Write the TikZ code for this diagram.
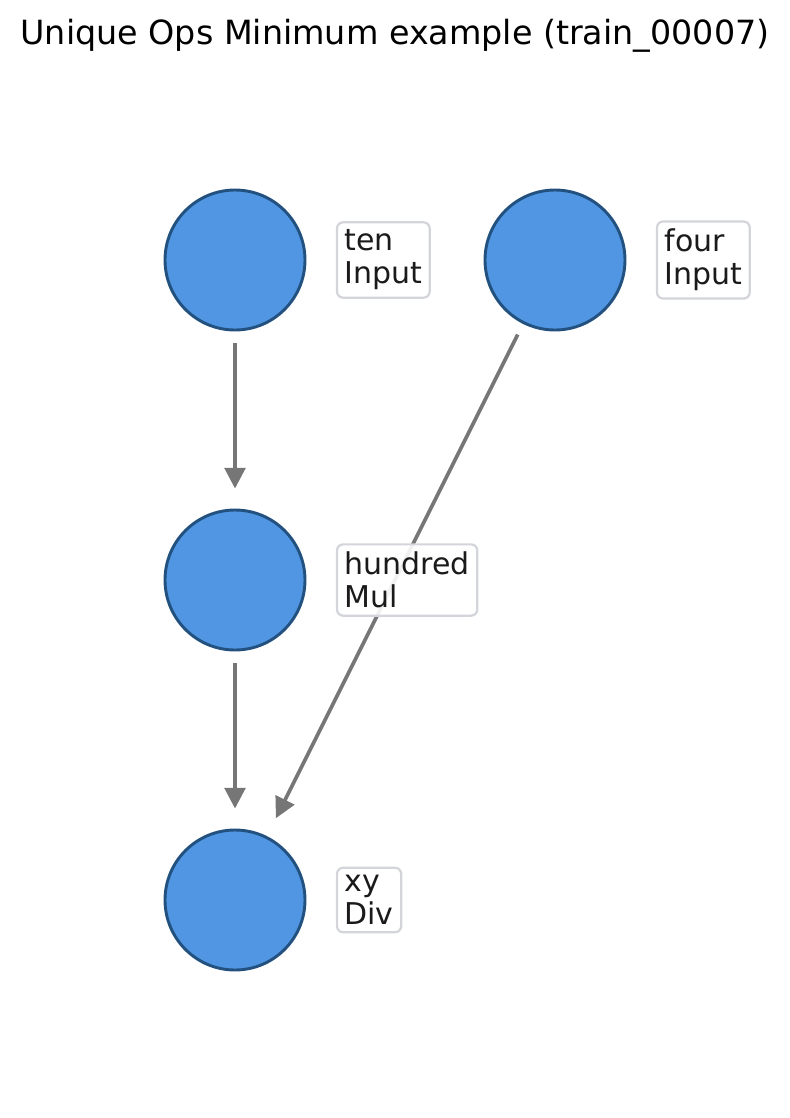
\documentclass[tikz,border=0pt]{standalone}
\usepackage{fontspec}
\setmainfont{DejaVu Sans}
\usepackage{xcolor}
\usetikzlibrary{arrows.meta,positioning}
\definecolor{opfill}{HTML}{5096E3}
\definecolor{opedge}{HTML}{22507F}
\definecolor{labedge}{HTML}{D3D5DB}
\definecolor{edgegray}{HTML}{767676}
\definecolor{labtext}{HTML}{1A1A1A}

\begin{document}
\begin{tikzpicture}[x=0.36pt,y=-0.36pt,>={Triangle[length=7.4pt,width=7.4pt]},node distance=10.6pt,
op/.style={draw=opedge,fill=opfill,circle,line width=1.05pt,minimum size=50.4pt,inner sep=0pt},
tag/.style={draw=labedge,fill=white,fill opacity=0.9,text opacity=1,line width=0.8pt,rounded corners=2.2pt,
  align=left,inner sep=2.7pt,text=labtext,font=\fontsize{10.8}{11.9}\selectfont},
flow/.style={->,draw=edgegray,line width=1.3pt,shorten <=4.3pt,shorten >=7.2pt}]
\useasboundingbox (0,0) rectangle (790,1118);
\node[font=\fontsize{12}{14}\selectfont] (title) at (395,36) {Unique Ops Minimum example (train\_00007)};
\node[op] (ten) at (235,260) {};
\node[op] (four) at (555,260) {};
\node[op] (hundred) at (235,580) {};
\node[op] (xy) at (235,900) {};
\draw[flow] (ten)--(hundred);
\draw[flow] (hundred)--(xy);
\draw[flow] (four)--(xy);
\node[tag,right=of ten] (tenlab) {ten\\Input};
\node[tag,right=of four] (fourlab) {four\\Input};
\node[tag,right=of hundred] (hundredlab) {hundred\\Mul};
\node[tag,right=of xy] (xylab) {xy\\Div};
\end{tikzpicture}
\end{document}
